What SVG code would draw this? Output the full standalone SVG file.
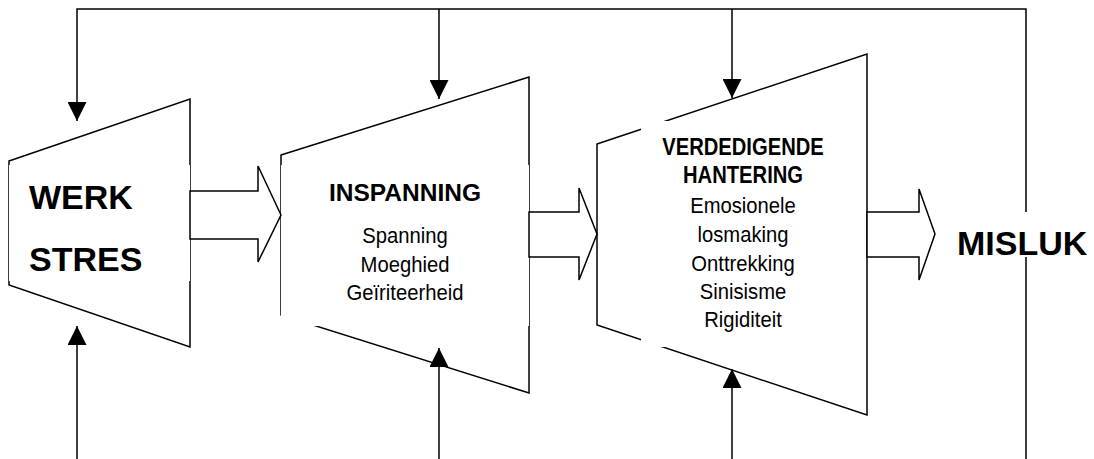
<svg xmlns="http://www.w3.org/2000/svg" width="1094" height="459" viewBox="0 0 1094 459">
<style>
.shape{fill:#fff;stroke:#000;stroke-width:1.5;stroke-linejoin:miter}
.box{fill:#fff;stroke:none}
.conn{fill:none;stroke:#000;stroke-width:1.5}
.block{fill:#fff;stroke:#000;stroke-width:1.5;stroke-linejoin:miter}
.t{font-family:"Liberation Sans",Arial,sans-serif;fill:#000}
.b{font-weight:bold}
.c{text-anchor:middle}
.r2{font-size:22.5px}
.b3{font-size:23.5px;font-weight:bold}
.r3{font-size:22px}
</style>
<defs>
<marker id="ah" markerUnits="userSpaceOnUse" markerWidth="19" markerHeight="19" viewBox="0 0 10 10" refX="10" refY="5" orient="auto">
<path d="M0,0 L10,5 L0,10 z" fill="#000"/>
</marker>
</defs>
<rect width="1094" height="459" fill="#fff"/>

<g id="node-werkstres">
<polygon class="shape" points="9,161 190,99 190,347 9,285"/>
<rect class="box" x="9" y="165" width="181" height="116"/>
<text class="t b" x="29" y="209" font-size="34">WERK</text>
<text class="t b" x="29" y="271" font-size="34">STRES</text>
</g>

<g id="node-inspanning">
<polygon class="shape" points="281,155 529,77 529,393 281,315"/>
<rect class="box" x="281" y="165" width="248" height="161"/>
<text class="t b c" x="405" y="201" font-size="24.5">INSPANNING</text>
<text class="t c r2" transform="translate(405,243) scale(0.9,1)">Spanning</text>
<text class="t c r2" transform="translate(405,272) scale(0.9,1)">Moeghied</text>
<text class="t c r2" transform="translate(405,300) scale(0.9,1)">Geïriteerheid</text>
</g>

<g id="node-verdedigende">
<polygon class="shape" points="597,144 867,54 867,415 597,325"/>
<rect class="box" x="641" y="121" width="200" height="226"/>
<text class="t c b3" transform="translate(743,155) scale(0.86,1)">VERDEDIGENDE</text>
<text class="t c b3" transform="translate(743,183) scale(0.86,1)">HANTERING</text>
<text class="t c r3" transform="translate(743,213) scale(0.92,1)">Emosionele</text>
<text class="t c r3" transform="translate(743,242) scale(0.92,1)">losmaking</text>
<text class="t c r3" transform="translate(743,271) scale(0.92,1)">Onttrekking</text>
<text class="t c r3" transform="translate(743,299) scale(0.92,1)">Sinisisme</text>
<text class="t c r3" transform="translate(743,327) scale(0.92,1)">Rigiditeit</text>
</g>

<g id="connectors">
<polyline class="conn" points="1026,459 1026,9 77,9 77,121" marker-end="url(#ah)"/>
<line class="conn" x1="439" y1="9" x2="439" y2="99" marker-end="url(#ah)"/>
<line class="conn" x1="732" y1="9" x2="732" y2="98" marker-end="url(#ah)"/>
<line class="conn" x1="77" y1="459" x2="77" y2="326" marker-end="url(#ah)"/>
<line class="conn" x1="439" y1="459" x2="439" y2="348" marker-end="url(#ah)"/>
<line class="conn" x1="732" y1="459" x2="732" y2="369" marker-end="url(#ah)"/>
<polygon class="block" points="190,191 258,191 258,166 281,215 258,262 258,239 190,239"/>
<polygon class="block" points="529,212 579,212 579,188 597,234 579,280 579,257 529,257"/>
<polygon class="block" points="867,212 919,212 919,189 935,234 919,280 919,257 867,257"/>
</g>

<g id="node-misluk">
<rect class="box" x="950" y="212" width="144" height="45"/>
<text class="t b" x="957" y="255" font-size="34">MISLUK</text>
</g>
</svg>
